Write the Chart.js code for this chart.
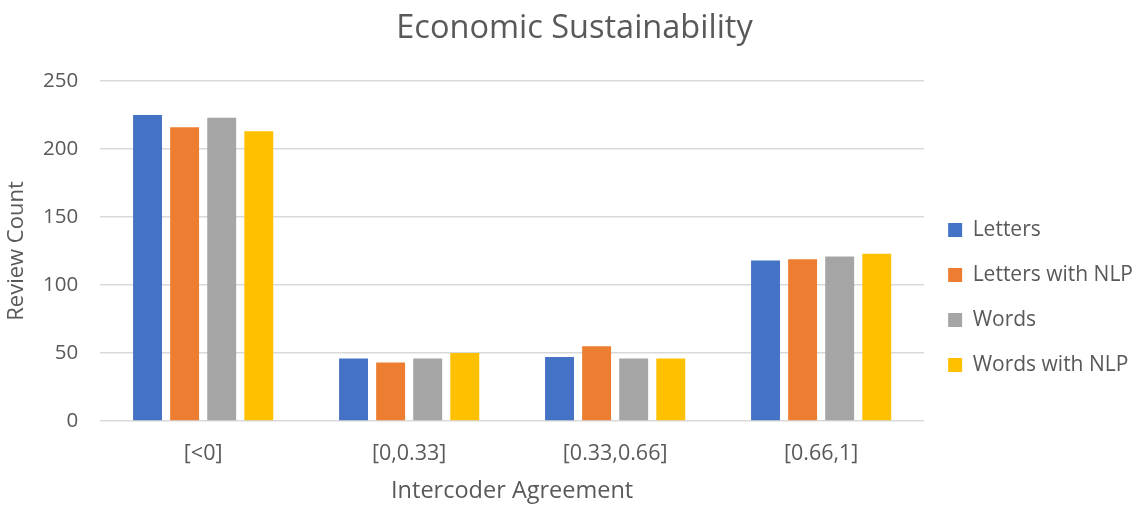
<!DOCTYPE html>
<html>
<head>
<meta charset="utf-8">
<script src="https://cdn.jsdelivr.net/npm/chart.js@4/dist/chart.umd.min.js"></script>
<style>
  body { margin: 0; background: #fff; }
  #wrap { width: 1145px; height: 505px; }
</style>
</head>
<body>
<div id="wrap"><canvas id="chart" width="1145" height="505"></canvas></div>
<script>
const categories = ['[<0]', '[0,0.33]', '[0.33,0.66]', '[0.66,1]'];
const letters = [225, 46, 47, 118];
const lettersNLP = [216, 43, 55, 119];
const words = [223, 46, 46, 121];
const wordsNLP = [213, 50, 46, 123];
const yTicks = [0, 50, 100, 150, 200, 250];

const textColor = '#595959';
const font = "'Open Sans', 'Noto Sans', sans-serif";

function series(label, data, color) {
    return {
        label: label,
        data: data,
        backgroundColor: color,
        barPercentage: 0.78,
        categoryPercentage: 0.72
    };
}

new Chart(document.getElementById('chart'), {
    type: 'bar',
    data: {
        labels: categories,
        datasets: [
            series('Letters', letters, '#4472C4'),
            series('Letters with NLP', lettersNLP, '#ED7D31'),
            series('Words', words, '#A5A5A5'),
            series('Words with NLP', wordsNLP, '#FFC000')
        ]
    },
    options: {
        responsive: false,
        animation: false,
        layout: { padding: { left: 6, right: 2, top: 3, bottom: 0 } },
        plugins: {
            title: {
                display: true,
                text: 'Economic Sustainability',
                color: textColor,
                font: { family: font, size: 32.5, weight: 'normal' },
                padding: { top: 6, bottom: 33 }
            },
            legend: {
                position: 'right',
                title: {
                    display: true,
                    text: ' ',
                    font: { size: 1 },
                    padding: { top: 43, bottom: 43 }
                },
                labels: {
                    color: textColor,
                    font: { family: font, size: 21 },
                    boxWidth: 14,
                    boxHeight: 14,
                    padding: 24
                }
            },
            tooltip: { enabled: false }
        },
        scales: {
            x: {
                grid: { display: false },
                border: { display: false },
                ticks: { color: textColor, font: { family: font, size: 21.5 }, padding: 12 },
                title: {
                    display: true,
                    text: 'Intercoder Agreement',
                    color: textColor,
                    font: { family: font, size: 23.5 },
                    padding: { top: -2, bottom: 0 }
                }
            },
            y: {
                min: 0,
                max: 250,
                afterBuildTicks: axis => { axis.ticks = yTicks.map(v => ({ value: v })); },
                grid: { color: '#D9D9D9', lineWidth: 1.5, drawTicks: false },
                border: { display: false },
                ticks: { color: textColor, font: { family: font, size: 20.5 }, padding: 22 },
                title: {
                    display: true,
                    text: 'Review Count',
                    color: textColor,
                    font: { family: font, size: 22, lineHeight: 1 },
                    padding: { top: 0, bottom: -7 }
                }
            }
        }
    }
});
</script>
</body>
</html>
